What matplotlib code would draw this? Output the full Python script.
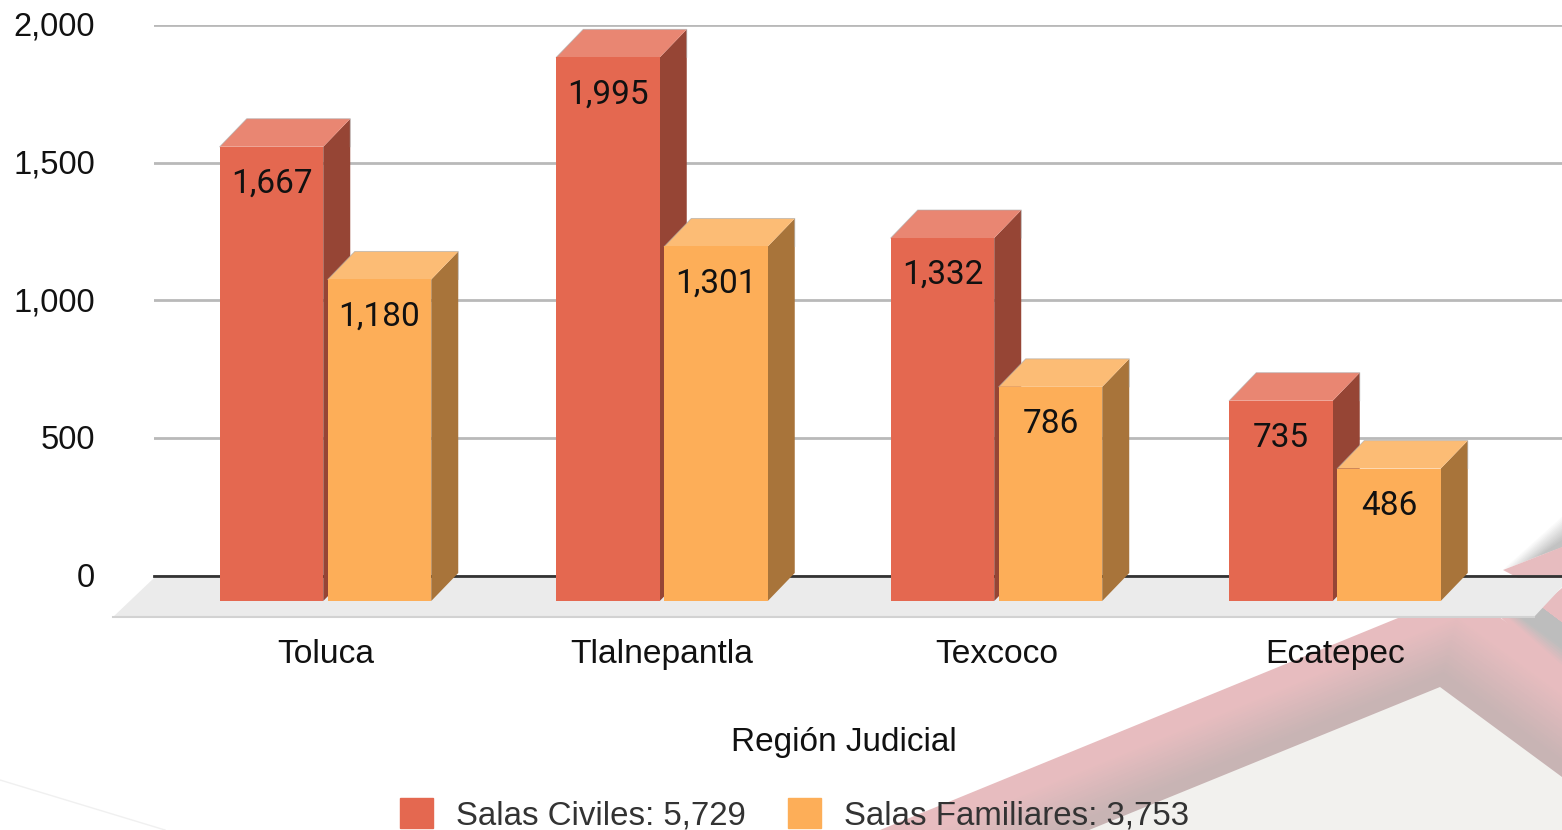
# Salas por region judicial, barras con efecto 3D
import numpy as np
import matplotlib
matplotlib.use('Agg')
import matplotlib.pyplot as plt
from matplotlib.patches import Polygon
from matplotlib.colors import to_rgb
from matplotlib.transforms import ScaledTranslation

W, H = 1562, 830

regiones = ['Toluca', 'Tlalnepantla', 'Texcoco', 'Ecatepec']
civiles = [1667, 1995, 1332, 735]
familiares = [1180, 1301, 786, 486]
ticks = [0, 500, 1000, 1500, 2000]
leyenda = ['Salas Civiles: 5,729', 'Salas Familiares: 3,753']

ROJO = ('#e46850', '#e98672', '#964535')
NARANJA = ('#fdae58', '#fcbc75', '#a8743a')
ROSA = '#e7bcbf'
GRIS_TEXTO = '#111111'

plt.rcParams['font.family'] = ['Liberation Sans', 'DejaVu Sans']

fig = plt.figure(figsize=(W / 100, H / 100), dpi=100, facecolor='white')

# Fondo (decoracion de la diapositiva) en pixeles
bg = fig.add_axes([0, 0, 1, 1], zorder=0)
bg.set_xlim(0, W)
bg.set_ylim(H, 0)
bg.axis('off')


def chevron(t):
    # t=0 borde exterior, t=1 borde interior
    peak = (1464 + t * (1440 - 1464), 591 + t * (687 - 591))
    left = (880 + t * (1089 - 880), 830)
    right = (1562, 663 + t * (777 - 663))
    return [left, peak, right, (1562, 830)]


c1 = np.array(to_rgb(ROSA))
c2 = np.array(to_rgb('#c8b4b4'))
for t in np.linspace(0, 1, 40):
    k = min(max((t - 0.25) / 0.6, 0), 1)
    bg.add_patch(Polygon(chevron(t), color=tuple(c1 + k * (c2 - c1)), lw=0))
bg.add_patch(Polygon(chevron(1), color='#f2f1ee', lw=0))

# pliegue arriba a la derecha
for a in np.linspace(0, 1, 14):
    g = 1 - 0.24 * a
    bg.add_patch(Polygon([(1500 + 40 * a, 571 - 16 * a), (1562, 547), (1562, 515 + 25 * a)],
                         color=(g, g, g), lw=0))
bg.add_patch(Polygon([(1503, 570), (1562, 547), (1562, 580), (1522, 580)], color=ROSA, lw=0))

# sombra abajo a la derecha
bg.add_patch(Polygon([(1495, 612), (1538, 608), (1562, 588), (1562, 675)], color=ROSA, lw=0))
c3 = np.array(to_rgb('#bdbdbd'))
for a in np.linspace(0, 1, 14):
    k = min(a * 2, 1)
    bg.add_patch(Polygon([(1505 + 29 * a, 617), (1534, 617), (1542, 608), (1562, 623), (1562, 668 - 40 * a)],
                         color=tuple(c1 + k * (c3 - c1)), lw=0))

# linea tenue abajo a la izquierda
bg.plot([0, 165], [780, 830], color='#f0f0f0', lw=1)

# Piso
bg.add_patch(Polygon([(113, 617), (154, 578), (1562, 578), (1562, 587), (1534, 617)],
                     facecolor='#ebebeb', edgecolor='none'))
bg.plot([113, 1534], [617, 617], color='#d2d2d2', lw=1.5)

# Rejilla con la escala del eje
grid = fig.add_axes([154 / W, 1 - 576 / H, (W - 154) / W, 551 / H], zorder=1)
grid.patch.set_visible(False)
grid.set_xlim(0, 1)
grid.set_ylim(0, 2000)
grid.set_xticks([])
grid.set_yticks(ticks)
grid.set_yticklabels([f'{t:,}' for t in ticks], fontsize=23.5, color=GRIS_TEXTO)
grid.tick_params(axis='y', length=0, pad=42.5)
sube = ScaledTranslation(0, 1.5 / 100, fig.dpi_scale_trans)
for lab in grid.get_yticklabels():
    lab.set_transform(lab.get_transform() + sube)
grid.grid(axis='y', color='#b9b9b9', lw=2)
grid.set_axisbelow(True)
for s in grid.spines.values():
    s.set_visible(False)
grid.axhline(0, color='#333333', lw=2, clip_on=False)

# Barras
ax = fig.add_axes([0, 0, 1, 1], zorder=2)
ax.patch.set_visible(False)
ESC_X, X0 = 336.5, 325.5
ESC_Y, Y0 = 0.2725, 601
ax.set_xlim(-X0 / ESC_X, (W - X0) / ESC_X)
ax.set_ylim((Y0 - H) / ESC_Y, Y0 / ESC_Y)
ax.axis('off')

posiciones = [0, 1, 1.994, 3]
ancho = 103.5 / ESC_X
dx = 27 / ESC_X
dy = 28 / ESC_Y
sep = 54 / ESC_X


def barra(x, v, colores, z):
    izq, der = x - ancho / 2, x + ancho / 2
    ax.add_patch(Polygon([(der, 0), (der + dx, dy), (der + dx, v + dy), (der, v)],
                         facecolor=colores[2], edgecolor='none', zorder=z))
    ax.add_patch(Polygon([(izq, v), (izq + dx, v + dy), (der + dx, v + dy), (der, v)],
                         facecolor=colores[1], edgecolor='none', zorder=z))
    ax.plot([izq, izq + dx, der + dx, der + dx], [v, v + dy, v + dy, v], color='#a9a9a9',
            lw=0.7, alpha=0.6, zorder=z)
    ax.bar(x, v, width=ancho, color=colores[0], zorder=z + 0.1)
    ax.text(x, v - 136, f'{v:,}', ha='center', va='center', fontsize=24, color=GRIS_TEXTO,
            family=['Roboto', 'DejaVu Sans'], zorder=z + 0.2)


for i, (c, f) in enumerate(zip(civiles, familiares)):
    barra(posiciones[i] - sep, c, ROJO, 3)
    barra(posiciones[i] + sep, f, NARANJA, 4)
    ax.text(posiciones[i], (Y0 - 654) / ESC_Y, regiones[i], ha='center', va='center', fontsize=24.2,
            color=GRIS_TEXTO, zorder=6)

fig.text(844 / W, 1 - 742 / H, 'Región Judicial', ha='center', va='center', fontsize=24, color=GRIS_TEXTO)

# Leyenda
handles = [plt.Rectangle((0, 0), 1, 1, color=ROJO[0]), plt.Rectangle((0, 0), 1, 1, color=NARANJA[0])]
fig.legend(handles, leyenda, ncol=2, frameon=False, fontsize=23.8, labelcolor='#333333',
           handlelength=1.0, handleheight=1.0, handletextpad=0.68, columnspacing=1.3,
           loc='center', bbox_to_anchor=(794.5 / W, 1 - 815 / H), borderpad=0, borderaxespad=0)

fig.savefig('out.png', dpi=100)
